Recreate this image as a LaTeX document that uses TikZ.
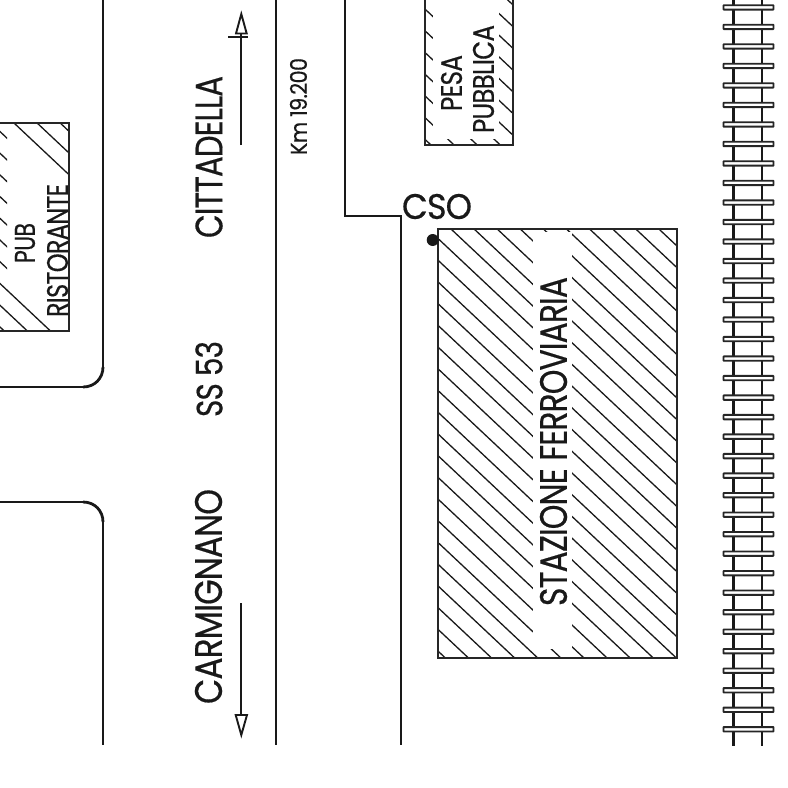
\documentclass[tikz,border=0pt]{standalone}
\usepackage{fontspec}
\setmainfont{Poppins}[LetterSpace=-3, FakeBold=0.5]
\usetikzlibrary{positioning}
\newcommand{\fitlabel}[3]{\resizebox{#1pt}{#2pt}{#3}}
\newcommand{\hatchlines}[3]{%
    \foreach \i in {#3} {
        \draw[hatch_line] ({#1+\i*23.1-500}, {#2-470}) -- ({#1+\i*23.1+500}, {#2+470});
    }%
}

\begin{document}
\begin{tikzpicture}[
    x=1pt, y=-1pt,
    % styles
    road_line/.style={draw=black!90, line width=1.9pt},
    road_curve/.style={draw=black!90, line width=2.8pt},
    outline/.style={draw=black!85, line width=1.9pt},
    hatch_line/.style={draw=black!90, line width=1.3pt},
    map_label/.style={rotate=90, inner sep=0pt, text=black!90},
    hatch_gap/.style={fill=white, draw=none, inner sep=0pt},
    rail/.style={draw=black!90, line width=2.2pt},
    tie/.style={draw=black!85, fill=white, line width=1.9pt, rounded corners=0.5pt}
]
    \useasboundingbox (0, 0) rectangle (788, 788);

    % --- 1. ROAD EDGES ---
    \draw[road_line] (103, 0) -- (103, 367);
    \draw[road_curve] (103, 367) .. controls (103, 378) and (95, 387) .. (83, 387);
    \draw[road_line] (83, 387) -- (0, 387);
    \draw[road_line] (0, 502) -- (83, 502);
    \draw[road_curve] (83, 502) .. controls (95, 502) and (103, 511) .. (103, 522);
    \draw[road_line] (103, 522) -- (103, 745);
    \draw[road_line] (276, 0) -- (276, 745);
    \draw[road_line] (345, 0) -- (345, 216) -- (401, 216) -- (401, 745);

    % --- 2. PUB RISTORANTE ---
    \begin{scope}
        \clip (0, 123) rectangle (69, 331);
        \hatchlines{14}{123}{0, 1, 2, -8, -9, -10}
        \clip (0, 123) rectangle (7, 331);
        \hatchlines{14}{123}{-1, -2, -3, -4, -5, -6, -7}
    \end{scope}
    \draw[outline] (0, 123) -- (69, 123) -- (69, 331) -- (0, 331);
    \node[map_label] (pub) at (25, 243) {\fitlabel{40}{20}{PUB}};
    \node[map_label] (ristorante) at (57.5, 250.5) {\fitlabel{133}{21}{RISTORANTE}};

    % --- 3. PESA PUBBLICA ---
    \begin{scope}
        \clip (425, 0) rectangle (513, 145);
        \hatchlines{431}{145}{0, 1, 2, 3, 4, 5, 6, 7, 8, 9, 10}
    \end{scope}
    \node[hatch_gap, minimum width=66pt, minimum height=140pt] (pesa_gap) at (466, 69) {};
    \draw[outline] (425, 0) -- (425, 145) -- (513, 145) -- (513, 0);
    \node[map_label] (pesa) at (451.5, 83) {\fitlabel{56}{21}{PESA}};
    \node[map_label] (pubblica) at (483.5, 79) {\fitlabel{108}{21}{PUBBLICA}};

    % --- 4. STAZIONE FERROVIARIA ---
    \begin{scope}
        \clip (438, 229) rectangle (677, 658);
        \hatchlines{451}{229}{-21, -20, ..., 10}
    \end{scope}
    \node[hatch_gap, minimum width=39pt, minimum height=417pt] (station_gap) at (552.5, 440.5) {};
    \draw[outline] (438, 229) rectangle (677, 658);
    \node[map_label] (station) at (553.5, 441.5) {\fitlabel{329}{27}{STAZIONE FERROVIARIA}};

    % --- 5. CSO ---
    \node[inner sep=0pt, text=black!90] (cso) at (437, 206.5) {\fitlabel{70}{25}{CSO}};
    \node[circle, fill=black!90, inner sep=0pt, minimum size=12pt] (cso_dot) at (432.7, 240) {};

    % --- 6. ROAD LABELS ---
    \node[map_label] (cittadella) at (209, 157) {\fitlabel{162}{27}{CITTADELLA}};
    \node[map_label] (ss53) at (209, 379) {\fitlabel{76}{27}{SS 53}};
    \node[map_label] (carmignano) at (208.5, 596.5) {\fitlabel{215}{27}{CARMIGNANO}};
    \node[map_label] (km) at (298.5, 106.5) {\fitlabel{97}{17}{Km 19.200}};

    % --- 7. DIRECTION ARROWS ---
    \coordinate (up_tail) at (241, 145);
    \coordinate (up_head) at (241, 33.5);
    \draw[road_line] (up_tail) -- (up_head);
    \draw[road_line] (228, 37) -- (247.6, 37);
    \draw[road_line, line join=miter] (236, 33.5) -- (241.3, 14) -- (246.7, 33.5) -- cycle;
    \coordinate (down_tail) at (241, 603);
    \coordinate (down_head) at (241, 715);
    \draw[road_line] (down_tail) -- (down_head);
    \draw[road_line, line join=miter] (235.7, 715) -- (241.3, 735) -- (247, 715) -- cycle;

    % --- 8. RAILWAY ---
    \draw[rail] (733.5, 0) -- (733.5, 746);
    \draw[rail] (762, 0) -- (762, 746);
    \foreach \n in {0, 1, ..., 37} {
        \draw[tie] (723.5, {7.4+\n*19.51-2.2}) rectangle (773.5, {7.4+\n*19.51+2.2});
    }
\end{tikzpicture}
\end{document}
